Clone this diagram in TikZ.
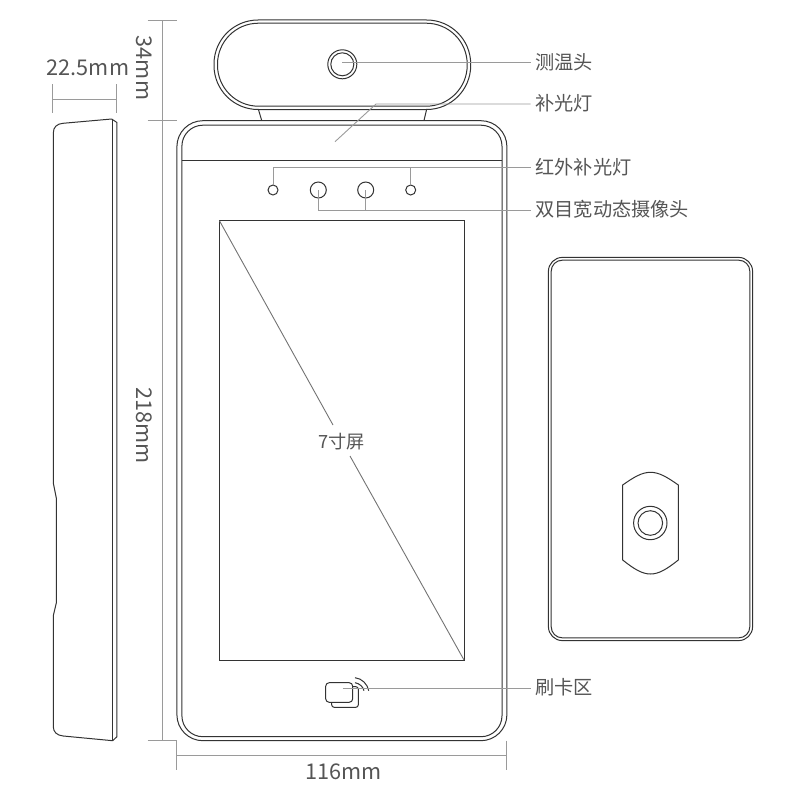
\documentclass[tikz,border=0pt]{standalone}
\usepackage{fontspec}
\setmainfont{Noto Sans CJK SC}
\newfontfamily\cjk{Noto Sans CJK SC}
\definecolor{ink}{HTML}{333333}
\definecolor{lead}{HTML}{9A9A9A}
\definecolor{txt}{HTML}{555555}
\tikzset{
  body/.style={draw=ink,line width=1pt,fill=none,inner sep=0pt,outer sep=0pt},
  boxo/.style={body,rounded corners=#1,anchor=north west},
  leader/.style={draw=lead,line width=0.9pt},
  dimline/.style={draw=lead,line width=1pt},
  lbl/.style={anchor=west,inner sep=0pt,inner xsep=5pt,outer sep=0pt,text=txt,font=\fontsize{19.2}{19.2}\selectfont\cjk},
  dimtxt/.style={inner sep=0pt,text=txt,font=\fontsize{21.7}{21.7}\selectfont},
  ring/.style={body,circle},
}
\newcommand{\rbox}[6]{% name, x0,y0,x1,y1, radius
  \node[boxo=#6,minimum width={#4pt-#2pt},minimum height={#5pt-#3pt}] (#1) at (#2,#3) {};}
\begin{document}
\begin{tikzpicture}[x=1pt,y=-1pt]
\useasboundingbox (0,0) rectangle (800,800);
% side view
\draw[body,line join=round] (53.3,483) -- (53.3,133) .. controls (53.3,127) and (57,123.8) .. (63,123.3)
  -- (111.7,119) -- (116.9,122.5) -- (116.9,736.7) -- (112.7,740.7) -- (63.3,736)
  .. controls (57,735.5) and (53.3,732) .. (53.3,726.7) -- (53.3,615.7) -- (56.3,603) -- (56.3,498) -- cycle;
\draw[body] (112.7,119.2) -- (112.7,740.5);
% temperature head
\path[body,draw] (258.3,109) -- (261.7,120.5) (426.7,109) -- (424,120.5);
\rbox{headO}{214}{20}{470.7}{109.5}{44}
\rbox{headI}{217.5}{23.2}{467.2}{106.2}{41}
% main body
\rbox{bodyO}{176.9}{120.7}{506.9}{740.7}{26}
\rbox{bodyI}{181.9}{125.2}{502}{736.7}{21}
\draw[body] (181.9,160) -- (502,160);
\rbox{screen}{219.5}{220.8}{464}{660}{0}
% lens and leds
\node[ring,minimum size=29pt] (lensO) at (342.3,64.3) {};
\node[ring,minimum size=23pt] (lensI) at (342.3,64.3) {};
\node[ring,minimum size=10pt] (ledA) at (273,190) {};
\node[ring,minimum size=10pt] (ledB) at (410.7,190) {};
\node[ring,minimum size=16pt] (camA) at (318.3,190) {};
\node[ring,minimum size=16pt] (camB) at (365.7,190) {};
% card icon
\draw[body,rounded corners=2.5pt] (352.7,686.7) -- (358.3,686.7) -- (358.3,707.3) -- (331.7,707.3) -- (331.7,702.3);
\rbox{card}{325.7}{682.7}{352.7}{702.3}{3.5}
\draw[body] (355,677.7) .. controls (362,678.5) and (367.5,684) .. (368.7,690.7);
\draw[body] (355,682.7) .. controls (359.5,683.5) and (363,686.5) .. (364,690.7);
% back view
\rbox{backO}{548.4}{257.4}{752.6}{640.6}{14}
\rbox{backI}{551.2}{260.2}{749.8}{637.8}{11}
\draw[body,line join=miter] (622.7,485) .. controls (634,477) and (642,472.3) .. (650.5,472.3)
  .. controls (659,472.3) and (667,477) .. (678.3,485) -- (678.3,560)
  .. controls (667,569) and (659,574) .. (650.5,574) .. controls (642,574) and (634,569) .. (622.7,560) -- cycle;
\node[ring,minimum size=33.4pt] (btnO) at (650.3,523) {};
\node[ring,minimum size=24.6pt] (btnI) at (650.3,523) {};
% labels
\node[lbl] (lTemp) at (530.5,62) {测温头};
\node[lbl] (lFill) at (530.5,103) {补光灯};
\node[lbl] (lIr) at (530.5,167) {红外补光灯};
\node[lbl] (lCam) at (530.5,209) {双目宽动态摄像头};
\node[lbl] (lCard) at (530.5,687) {刷卡区};
\node[inner sep=0pt,text=txt,font=\fontsize{18.2}{18.2}\selectfont\cjk] (lScreen) at (341.5,442) {7寸屏};
% leaders
\coordinate (fA) at (335,141.7); \coordinate (fB) at (376,104);
\coordinate (irY) at (300,167.7); \coordinate (camY) at (300,210);
\coordinate (t1) at (342.3,62.3); \coordinate (c1) at (342.7,688.3);
\draw[leader] (t1) -- (t1 -| lTemp.west);
\draw[leader] (fA) -- (fB) -- (fB -| lFill.west);
\draw[leader] (ledA.north) -- (ledA.north |- irY) -- (irY -| lIr.west);
\draw[leader] (ledB.north) -- (ledB.north |- irY);
\draw[leader] (camA.center) -- (camA.center |- camY) -- (camY -| lCam.west);
\draw[leader] (camB.center) -- (camB.center |- camY);
\draw[leader] (c1) -- (c1 -| lCard.west);
\coordinate (dA) at (333,425); \coordinate (dB) at (350,456);
\draw[leader,draw=black!55] (screen.north west) -- (dA) (dB) -- (screen.south east);
% dimensions
\coordinate (w1a) at (52,84); \coordinate (w1b) at (52,113);
\coordinate (w2a) at (116.4,84); \coordinate (w2b) at (116.4,113);
\coordinate (w1m) at (52,99); \coordinate (w2m) at (116.4,99);
\draw[dimline] (w1a) -- (w1b) (w2a) -- (w2b) (w1m) -- (w2m);
\coordinate (h1a) at (147.5,20.3); \coordinate (h1b) at (176.9,20.3);
\coordinate (h2a) at (147.5,120.5); \coordinate (h2b) at (176.9,120.5);
\coordinate (h3a) at (147.5,740.7); \coordinate (h3b) at (176.9,740.7);
\coordinate (vT) at (162.7,20.3); \coordinate (vB) at (162.7,740.7);
\draw[dimline] (h1a) -- (h1b) (h2a) -- (h2b) (h3a) -- (h3b) (vT) -- (vB);
\coordinate (b1a) at (176.9,740.7); \coordinate (b1b) at (176.9,770);
\coordinate (b2a) at (506.9,740.7); \coordinate (b2b) at (506.9,770);
\coordinate (b1m) at (176.9,755.3); \coordinate (b2m) at (506.9,755.3);
\draw[dimline] (b1a) -- (b1b) (b2a) -- (b2b) (b1m) -- (b2m);
\node[dimtxt] (t225) at (88,68) {22.5mm};
\node[dimtxt,rotate=-90] (t34) at (144,68) {34mm};
\node[dimtxt,rotate=-90] (t218) at (144,425.5) {218mm};
\node[dimtxt] (t116) at (343.5,772) {116mm};
\end{tikzpicture}
\end{document}
